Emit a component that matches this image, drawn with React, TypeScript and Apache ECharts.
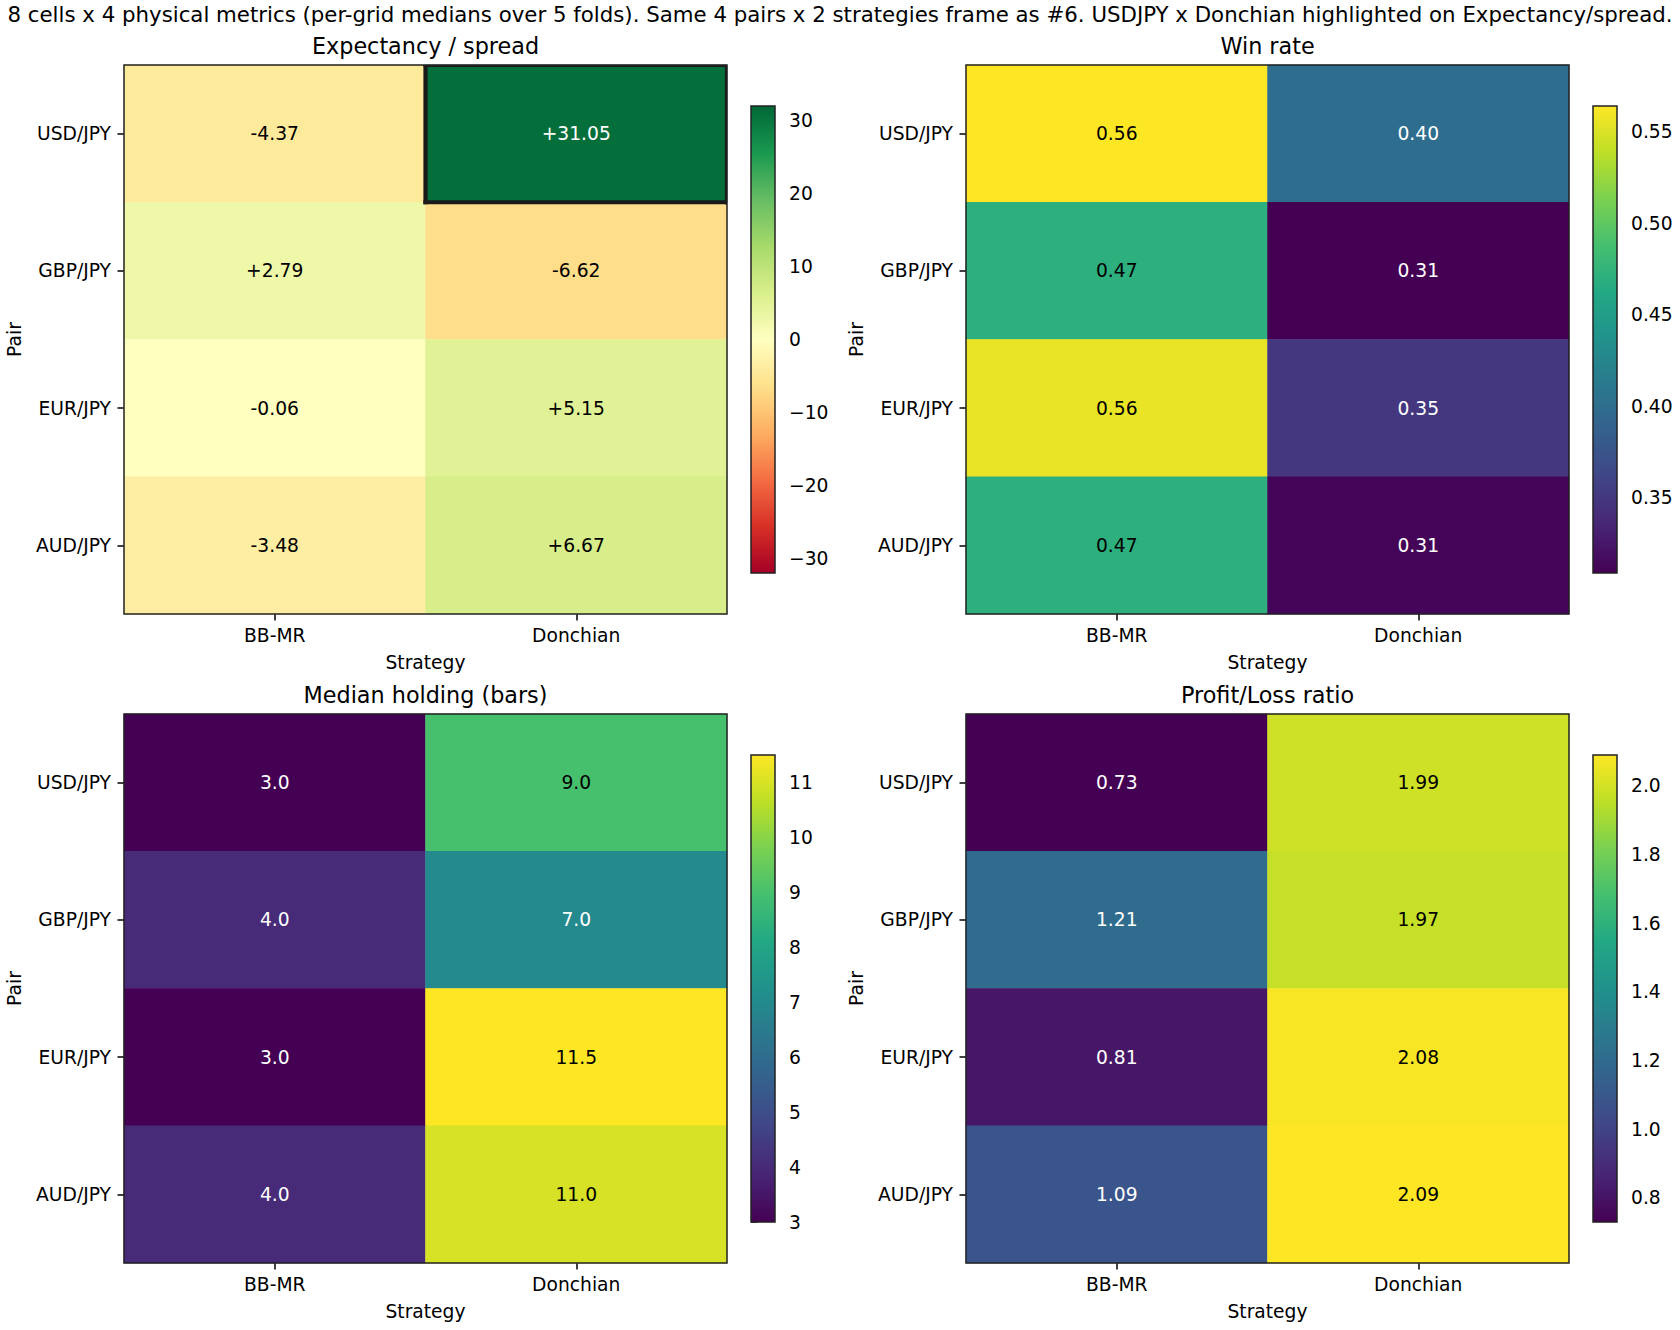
import React, { useEffect, useRef } from "react";
import * as echarts from "echarts";

// Rows follow `pairs`, columns follow `strategies`.
const pairs = ["USD/JPY", "GBP/JPY", "EUR/JPY", "AUD/JPY"];
const strategies = ["BB-MR", "Donchian"];

const expectancy = [
  [-4.37, 31.05],
  [2.79, -6.62],
  [-0.06, 5.15],
  [-3.48, 6.67],
];
const winRate = [
  [0.564, 0.4],
  [0.47, 0.309],
  [0.556, 0.35],
  [0.47, 0.312],
];
const medianHolding = [
  [3.0, 9.0],
  [4.0, 7.0],
  [3.0, 11.5],
  [4.0, 11.0],
];
const profitLoss = [
  [0.73, 1.99],
  [1.21, 1.97],
  [0.81, 2.08],
  [1.09, 2.09],
];

const expectancyTicks = [-30, -20, -10, 0, 10, 20, 30];
const winRateTicks = [0.35, 0.4, 0.45, 0.5, 0.55];
const holdingTicks = [3, 4, 5, 6, 7, 8, 9, 10, 11];
const profitLossTicks = [0.8, 1.0, 1.2, 1.4, 1.6, 1.8, 2.0];

const highlightPair = "USD/JPY";
const highlightStrategy = "Donchian";

const suptitle =
  "8 cells x 4 physical metrics (per-grid medians over 5 folds). Same 4 pairs x 2 strategies frame as #6. USDJPY x Donchian highlighted on Expectancy/spread.";

const RDYLGN = [
  "#a50026", "#d73027", "#f46d43", "#fdae61", "#fee08b", "#ffffbf",
  "#d9ef8b", "#a6d96a", "#66bd63", "#1a9850", "#006837",
];
const VIRIDIS = [
  "#440154", "#482475", "#414487", "#355f8d", "#2a788e", "#21918c",
  "#22a884", "#44bf70", "#7ad151", "#bddf26", "#fde725",
];

const FONT = "DejaVu Sans";
const TICK_FS = 18.7;
const TITLE_FS = 22.3;
const SUPTITLE_FS = 21.3;
const SPINE = "#222";
const SPINE_W = 1.5;

const minus = (s: string) => s.replace("-", "\u2212");

const panels = [
  {
    title: "Expectancy / spread",
    values: expectancy,
    cmap: RDYLGN,
    diverging: true,
    fmt: (v: number) => (v >= 0 ? "+" : "") + v.toFixed(2),
    ticks: expectancyTicks,
    tickFmt: (v: number) => minus(String(v)),
    left: 124,
    top: 65,
  },
  {
    title: "Win rate",
    values: winRate,
    cmap: VIRIDIS,
    diverging: false,
    fmt: (v: number) => v.toFixed(2),
    ticks: winRateTicks,
    tickFmt: (v: number) => v.toFixed(2),
    left: 966,
    top: 65,
  },
  {
    title: "Median holding (bars)",
    values: medianHolding,
    cmap: VIRIDIS,
    diverging: false,
    fmt: (v: number) => v.toFixed(1),
    ticks: holdingTicks,
    tickFmt: (v: number) => String(v),
    left: 124,
    top: 714,
  },
  {
    title: "Profit/Loss ratio",
    values: profitLoss,
    cmap: VIRIDIS,
    diverging: false,
    fmt: (v: number) => v.toFixed(2),
    ticks: profitLossTicks,
    tickFmt: (v: number) => v.toFixed(1),
    left: 966,
    top: 714,
  },
];

const PANEL_W = 603;
const PANEL_H = 549;
const CB_DX = 627;
const CB_DY = 41;
const CB_W = 24;
const CB_H = 467;

function buildOption() {
  const grid: any[] = [];
  const xAxis: any[] = [];
  const yAxis: any[] = [];
  const series: any[] = [];
  const visualMap: any[] = [];
  const title: any[] = [
    {
      text: suptitle,
      left: 840,
      top: 14,
      textAlign: "center",
      textVerticalAlign: "middle",
      padding: 0,
      textStyle: { fontSize: SUPTITLE_FS, fontWeight: "normal", color: "#000", fontFamily: FONT },
    },
  ];

  const frame = {
    show: true,
    backgroundColor: "transparent",
    borderColor: SPINE,
    borderWidth: SPINE_W,
    z: 10,
  };
  const tickStyle = { color: "#000", width: SPINE_W };
  const labelStyle = { fontSize: TICK_FS, color: "#000", fontFamily: FONT };

  panels.forEach((p, i) => {
    const flat = p.values.flat();
    let vmin: number, vmax: number;
    if (p.diverging) {
      // symmetric limits around zero, rounded up to a whole unit
      const m = Math.ceil(Math.max(...flat.map(Math.abs)));
      vmin = -m;
      vmax = m;
    } else {
      vmin = Math.min(...flat);
      vmax = Math.max(...flat);
    }

    title.push({
      text: p.title,
      left: p.left + PANEL_W / 2,
      top: p.top - 19,
      textAlign: "center",
      textVerticalAlign: "middle",
      padding: 0,
      textStyle: { fontSize: TITLE_FS, fontWeight: "normal", color: "#000", fontFamily: FONT },
    });

    grid[i] = { left: p.left, top: p.top, width: PANEL_W, height: PANEL_H, ...frame };
    grid[4 + i] = {
      left: p.left + CB_DX,
      top: p.top + CB_DY,
      width: CB_W,
      height: CB_H,
      ...frame,
    };

    xAxis[i] = {
      type: "category",
      gridIndex: i,
      data: strategies,
      position: "bottom",
      axisLine: { show: false },
      axisTick: { show: true, alignWithLabel: true, length: 6.5, lineStyle: tickStyle },
      axisLabel: { margin: 12, ...labelStyle },
      splitLine: { show: false },
      name: "Strategy",
      nameLocation: "middle",
      nameGap: 39,
      nameTextStyle: labelStyle,
    };
    yAxis[i] = {
      type: "category",
      gridIndex: i,
      data: pairs,
      inverse: true,
      axisLine: { show: false },
      axisTick: { show: true, alignWithLabel: true, length: 6.5, lineStyle: tickStyle },
      axisLabel: { margin: 13, ...labelStyle },
      splitLine: { show: false },
      name: "Pair",
      nameLocation: "middle",
      nameGap: 100,
      nameTextStyle: labelStyle,
    };

    xAxis[4 + i] = { type: "value", gridIndex: 4 + i, min: 0, max: 1, show: false };
    yAxis[4 + i] = {
      type: "value",
      gridIndex: 4 + i,
      min: vmin,
      max: vmax,
      position: "right",
      axisLine: { show: false },
      splitLine: { show: false },
      axisTick: { show: true, length: 6.5, lineStyle: tickStyle, customValues: p.ticks },
      axisLabel: {
        margin: 14,
        customValues: p.ticks,
        formatter: (v: number) => p.tickFmt(v),
        ...labelStyle,
      },
    };

    const data: any[] = [];
    p.values.forEach((row, r) => {
      row.forEach((v, c) => {
        const t = (v - vmin) / (vmax - vmin);
        const light = p.diverging ? t < 0.15 || t > 0.85 : t < 0.5;
        data.push({ value: [c, r, v], label: { color: light ? "#fff" : "#000" } });
      });
    });

    series[i] = {
      type: "heatmap",
      xAxisIndex: i,
      yAxisIndex: i,
      data,
      itemStyle: { borderWidth: 0 },
      emphasis: { disabled: true },
      progressive: 0,
      label: {
        show: true,
        fontSize: TICK_FS,
        fontFamily: FONT,
        formatter: (prm: any) => p.fmt(prm.value[2]),
      },
    };

    visualMap.push({
      type: "continuous",
      show: false,
      seriesIndex: i,
      dimension: 2,
      min: vmin,
      max: vmax,
      inRange: { color: p.cmap },
    });

    const stops = p.cmap.map((color, k) => ({ offset: k / (p.cmap.length - 1), color }));
    series[4 + i] = {
      type: "custom",
      xAxisIndex: 4 + i,
      yAxisIndex: 4 + i,
      silent: true,
      data: [[0]],
      renderItem: (_params: any, api: any) => {
        const a = api.coord([0, vmax]);
        const b = api.coord([1, vmin]);
        return {
          type: "rect",
          shape: { x: a[0], y: a[1], width: b[0] - a[0], height: b[1] - a[1] },
          style: { fill: new echarts.graphic.LinearGradient(0, 1, 0, 0, stops) },
        };
      },
    };
  });

  // Thick outline around the highlighted cell, clipped to the plotting area.
  const lw = 4.2;
  series.push({
    type: "custom",
    xAxisIndex: 0,
    yAxisIndex: 0,
    silent: true,
    z: 5,
    data: [[strategies.indexOf(highlightStrategy), pairs.indexOf(highlightPair)]],
    renderItem: (params: any, api: any) => {
      const cs = params.coordSys;
      const c = api.coord([api.value(0), api.value(1)]);
      const s = api.size([1, 1]);
      const x0 = c[0] - s[0] / 2;
      const x1 = c[0] + s[0] / 2;
      const y0 = c[1] - s[1] / 2;
      const y1 = c[1] + s[1] / 2;
      const h = lw / 2;
      const bands = [
        [x0 - h, y0 - h, x1 + h, y0 + h],
        [x0 - h, y1 - h, x1 + h, y1 + h],
        [x0 - h, y0 - h, x0 + h, y1 + h],
        [x1 - h, y0 - h, x1 + h, y1 + h],
      ];
      const children = bands
        .map(([ax, ay, bx, by]) => {
          const l = Math.max(ax, cs.x);
          const t = Math.max(ay, cs.y);
          const r = Math.min(bx, cs.x + cs.width);
          const b = Math.min(by, cs.y + cs.height);
          return r > l && b > t
            ? { type: "rect", shape: { x: l, y: t, width: r - l, height: b - t }, style: { fill: "#1a1a1a" } }
            : null;
        })
        .filter(Boolean);
      return { type: "group", children };
    },
  });

  return {
    animation: false,
    backgroundColor: "#fff",
    textStyle: { fontFamily: FONT },
    title,
    grid,
    xAxis,
    yAxis,
    visualMap,
    series,
  };
}

export default function App() {
  const ref = useRef<HTMLDivElement>(null);
  useEffect(() => {
    const chart = echarts.init(ref.current!, undefined, { renderer: "svg" });
    chart.setOption(buildOption() as any);
    return () => chart.dispose();
  }, []);
  return (
    <div
      ref={ref}
      style={{ position: "absolute", left: 0, top: 0, width: 1680, height: 1330, background: "#fff" }}
    />
  );
}
